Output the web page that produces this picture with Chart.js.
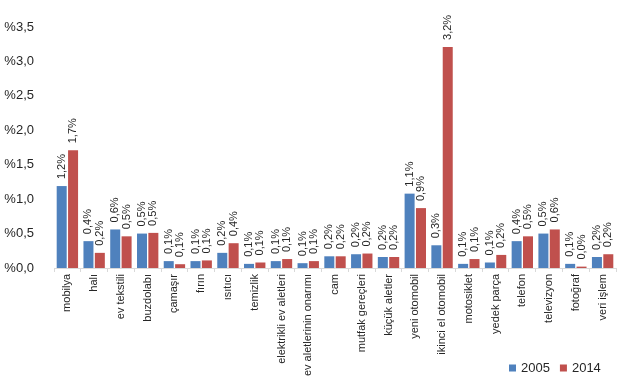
<!DOCTYPE html>
<html><head><meta charset="utf-8">
<script src="https://cdn.jsdelivr.net/npm/chart.js@4/dist/chart.umd.min.js"></script>
<style>html,body{margin:0;padding:0;background:#fff;}#wrap{width:635px;height:390px;}</style>
</head><body><div id="wrap"><canvas id="c" width="635" height="390"></canvas></div>
<script>
const categories = ["mobilya","halı","ev tekstili","buzdolabı","çamaşır","fırın","ısıtıcı","temizlik","elektrikli ev aletleri","ev aletlerinin onarımı","cam","mutfak gereçleri","küçük aletler","yeni otomobil","ikinci el otomobil","motosiklet","yedek parça","telefon","televizyon","fotoğraf","veri işlem"];
const values2005 = [1.19,0.39,0.56,0.50,0.10,0.10,0.22,0.06,0.10,0.07,0.17,0.20,0.16,1.08,0.33,0.06,0.08,0.39,0.50,0.06,0.16];
const values2014 = [1.71,0.22,0.46,0.51,0.055,0.11,0.36,0.08,0.13,0.10,0.17,0.21,0.16,0.87,3.21,0.13,0.19,0.46,0.56,0.02,0.20];
const seriesNames = ["2005","2014"];
const yTicks = [0,0.5,1.0,1.5,2.0,2.5,3.0,3.5];

const fmt = v => v.toFixed(1).replace('.', ',');
const FONT = "'Liberation Sans', Arial, sans-serif";
const TEXT = '#262626';

const valueLabels = {
  id: 'valueLabels',
  afterDatasetsDraw(chart) {
    const ctx = chart.ctx;
    ctx.save();
    ctx.font = "11px " + FONT;
    ctx.fillStyle = TEXT;
    ctx.textAlign = 'left';
    ctx.textBaseline = 'middle';
    chart.data.datasets.forEach((ds, di) => {
      chart.getDatasetMeta(di).data.forEach((bar, i) => {
        ctx.save();
        ctx.translate(bar.x, bar.y - 7);
        ctx.rotate(-Math.PI / 2);
        ctx.fillText(fmt(ds.data[i]) + '%', 0, 0);
        ctx.restore();
      });
    });
    ctx.restore();
  }
};

// legend drawn bottom-right, over the label band (as in the reference)
const cornerLegend = {
  id: 'cornerLegend',
  afterDraw(chart) {
    const ctx = chart.ctx;
    ctx.save();
    ctx.font = "13px " + FONT;
    ctx.textBaseline = 'middle';
    ctx.textAlign = 'left';
    let x = 509;
    const yc = 368;
    chart.data.datasets.forEach(ds => {
      ctx.fillStyle = ds.backgroundColor;
      ctx.fillRect(x, yc - 3.5, 7, 7);
      ctx.fillStyle = TEXT;
      ctx.fillText(ds.label, x + 12, yc);
      x += 12 + ctx.measureText(ds.label).width + 10;
    });
    ctx.restore();
  }
};

new Chart(document.getElementById('c'), {
  type: 'bar',
  data: {
    labels: categories,
    datasets: [
      { label: seriesNames[0], data: values2005, backgroundColor: '#4F81BD' },
      { label: seriesNames[1], data: values2014, backgroundColor: '#C0504D' }
    ]
  },
  options: {
    responsive: false,
    animation: false,
    devicePixelRatio: 1,
    layout: { padding: { top: 27, left: 0, right: 19, bottom: 0 } },
    datasets: { bar: { categoryPercentage: 0.85, barPercentage: 0.88 } },
    plugins: {
      tooltip: { enabled: false },
      legend: { display: false }
    },
    scales: {
      x: {
        grid: { display: true, drawOnChartArea: false, drawTicks: true, tickLength: 4, color: '#d9d9d9' },
        border: { display: true, color: '#d9d9d9' },
        ticks: { autoSkip: false, minRotation: 90, maxRotation: 90, padding: 2, color: TEXT, font: { family: FONT, size: 11 } },
        afterFit(scale) { scale.height = 122; }
      },
      y: {
        min: 0, max: 3.5,
        grid: { display: false },
        border: { display: false },
        afterBuildTicks(scale) { scale.ticks = yTicks.map(v => ({ value: v })); },
        ticks: { padding: 12, color: TEXT, font: { family: FONT, size: 13 }, callback: v => '%' + fmt(v) },
        afterFit(scale) { scale.width = 54; }
      }
    }
  },
  plugins: [valueLabels, cornerLegend]
});
</script></body></html>
